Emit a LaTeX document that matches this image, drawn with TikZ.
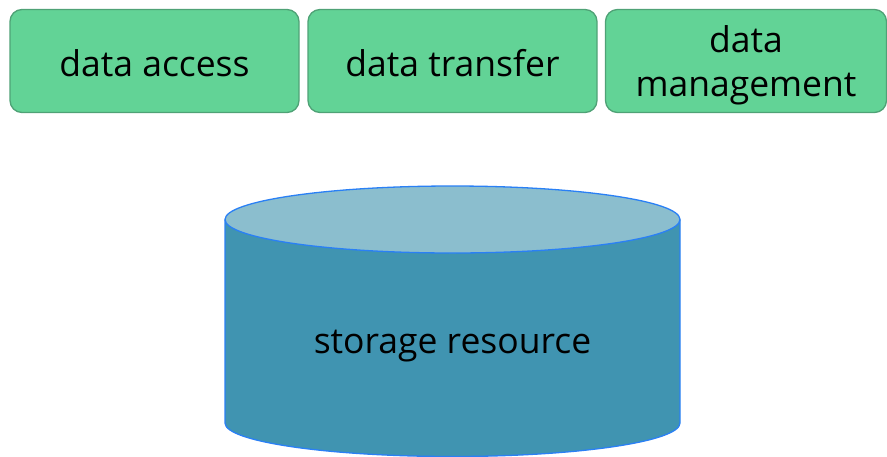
\documentclass[tikz,border=0pt]{standalone}
\usepackage{fontspec}
\setmainfont{Open Sans}
\definecolor{boxgreen}{HTML}{62D396}
\definecolor{boxedge}{HTML}{4FA276}
\definecolor{cylbody}{HTML}{4094B1}
\definecolor{cyltop}{HTML}{8BBECE}
\definecolor{cyledge}{HTML}{2A80F5}

\begin{document}
\begin{tikzpicture}[x=1pt, y=-1pt,
    task/.style={draw=boxedge, fill=boxgreen, line width=1.3pt, rounded corners=12pt,
      minimum width=289pt, minimum height=103pt, align=center, text height=31pt,
      font=\fontsize{35.5}{44}\selectfont, inner sep=0pt}]
      \useasboundingbox (0,0) rectangle (887,456);

      \node[task] (access) at (154.5,61) {data access};
      \node[task] (transfer) at (452.5,61) {data transfer};
      \node[task, minimum width=281pt, text height=79pt] (manage) at (746,61) {data\\management};

      \draw[cyledge, fill=cylbody, line width=1.3pt] (225,219.5) -- (225,423)
            arc [start angle=180, end angle=0, x radius=227.5, y radius=33.5]
            -- (680,219.5);
      \draw[cyledge, fill=cyltop, line width=1.3pt] (452.5,219.5) ellipse [x radius=227.5, y radius=33.5];
      \node[font=\fontsize{35.5}{44}\selectfont] (store) at (452.5,346) {storage resource};
\end{tikzpicture}
\end{document}
